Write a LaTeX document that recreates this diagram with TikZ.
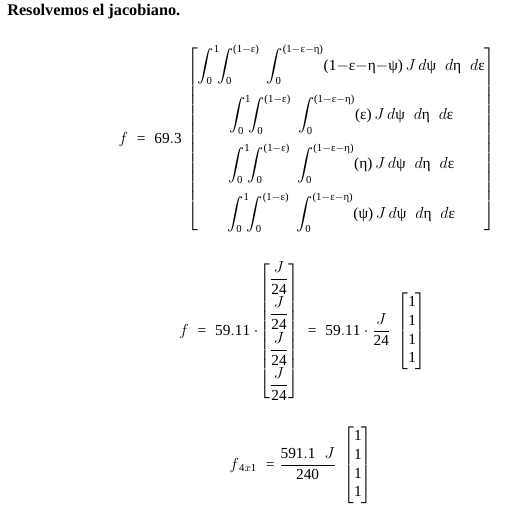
\documentclass[tikz,border=0pt]{standalone}
\usepackage{amsmath}
\usepackage[no-math]{fontspec}
\setmainfont{Liberation Serif}
\DeclareSymbolFont{operators}{TU}{\rmdefault}{m}{n}
\newcommand{\ueps}{\text{ε}}
\newcommand{\ueta}{\text{η}}
\newcommand{\upsi}{\text{ψ}}
\newcommand{\trint}{\int_0^1\!\!\int_0^{(1-\ueps)}\;\int_0^{(1-\ueps-\ueta)}}
\newcommand{\dvol}{J\,d\upsi\;\;d\ueta\;\;d\ueps}

\begin{document}
\begin{tikzpicture}[x=0.75pt,y=-0.75pt,
    every node/.style={font=\fontsize{11.5}{14}\selectfont, inner sep=0pt}]
    \useasboundingbox (0,0) rectangle (528,504);
    \node[anchor=west, font=\fontsize{12.2}{15}\selectfont\bfseries] (titulo) at (7,12) {Resolvemos el jacobiano.};
    \node (fint) at (307,139) {$f \;=\; 69.3\,
      \begin{bmatrix}
        \displaystyle\trint (1{-}\ueps{-}\ueta{-}\upsi)\,\dvol \\[14pt]
        \displaystyle\trint (\ueps)\,\dvol \\[14pt]
        \displaystyle\trint (\ueta)\,\dvol \\[14pt]
        \displaystyle\trint (\upsi)\,\dvol
      \end{bmatrix}$};
    \node (fvec) at (303,331) {$f \;=\; 59.11\cdot\!
      \begin{bmatrix}
        \dfrac{J}{24} \\[6pt] \dfrac{J}{24} \\[6pt] \dfrac{J}{24} \\[6pt] \dfrac{J}{24}
      \end{bmatrix}
      \;=\; 59.11\cdot\dfrac{J}{24}\;
      \begin{bmatrix} 1 \\ 1 \\ 1 \\ 1 \end{bmatrix}$};
    \node (ffin) at (301,465) {$f_{\,4x1} \;=\dfrac{591.1\;\;J}{240}\;
      \begin{bmatrix} 1 \\ 1 \\ 1 \\ 1 \end{bmatrix}$};
\end{tikzpicture}
\end{document}
